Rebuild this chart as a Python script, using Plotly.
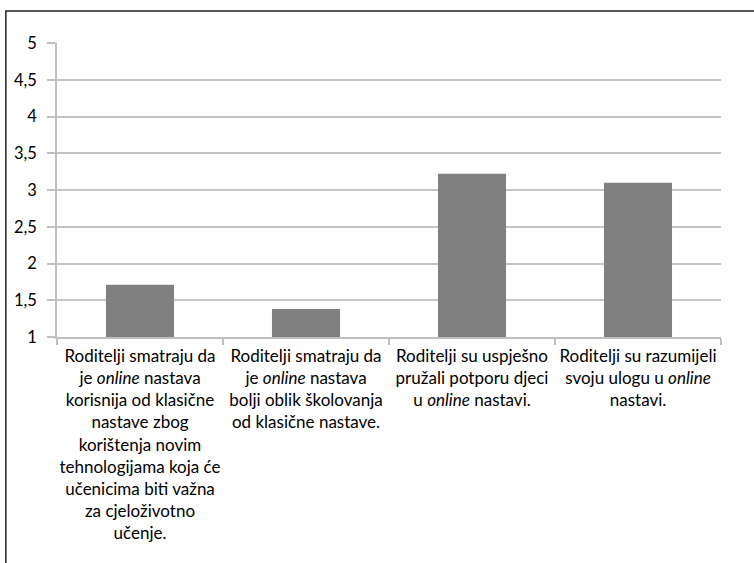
import plotly.graph_objects as go

categories = [
    "Roditelji smatraju da<br>je <i>online</i> nastava<br>korisnija od klasične<br>nastave zbog<br>korištenja novim<br>tehnologijama koja će<br>učenicima biti važna<br>za cjeloživotno<br>učenje.",
    "Roditelji smatraju da<br>je <i>online</i> nastava<br>bolji oblik školovanja<br>od klasične nastave.",
    "Roditelji su uspješno<br>pružali potporu djeci<br>u <i>online</i> nastavi.",
    "Roditelji su razumijeli<br>svoju ulogu u <i>online</i><br>nastavi.",
]
values = [1.71, 1.38, 3.22, 3.10]
ytick_vals = [1, 1.5, 2, 2.5, 3, 3.5, 4, 4.5, 5]
ytick_text = ["1", "1,5", "2", "2,5", "3", "3,5", "4", "4,5", "5"]

font_family = "Lato, Open Sans, sans-serif"

fig = go.Figure(go.Bar(
    x=categories, y=values,
    marker=dict(color="#808080", line=dict(width=0)),
))

fig.update_layout(
    width=754, height=563,
    margin=dict(l=57, r=33, t=43, b=226, autoexpand=False),
    paper_bgcolor="white", plot_bgcolor="white",
    bargap=0.59,
    showlegend=False,
    font=dict(family=font_family, size=17, color="#000000"),
)
fig.update_xaxes(
    type="category",
    showgrid=False, automargin=False,
    showline=True, linecolor="#bfbfbf", linewidth=1.5,
    ticks="outside", tickson="boundaries", ticklen=6, tickcolor="#bfbfbf", tickwidth=1.5,
    tickangle=0, ticklabelstandoff=3,
    tickfont=dict(family=font_family, size=17, color="#000000"),
)
fig.update_yaxes(
    range=[1, 5], automargin=False,
    tickvals=ytick_vals, ticktext=ytick_text,
    showgrid=True, gridcolor="#c4c4c4", gridwidth=1.5,
    showline=True, linecolor="#bfbfbf", linewidth=1.5,
    ticks="outside", ticklen=8, tickcolor="#bfbfbf", tickwidth=1.5,
    ticklabelstandoff=7,
    zeroline=False,
    tickfont=dict(family=font_family, size=16.5, color="#000000"),
)
# decorative frame around the chart
fig.add_shape(type="rect", xref="paper", yref="paper",
              x0=-0.077, x1=1.06, y0=-0.8, y1=1.109,
              line=dict(color="#222222", width=1.5), fillcolor="rgba(0,0,0,0)",
              layer="below")

fig.write_html("out.html",
               config={"displayModeBar": False},
               post_script="document.body.style.margin='0';document.body.style.overflow='hidden';")
